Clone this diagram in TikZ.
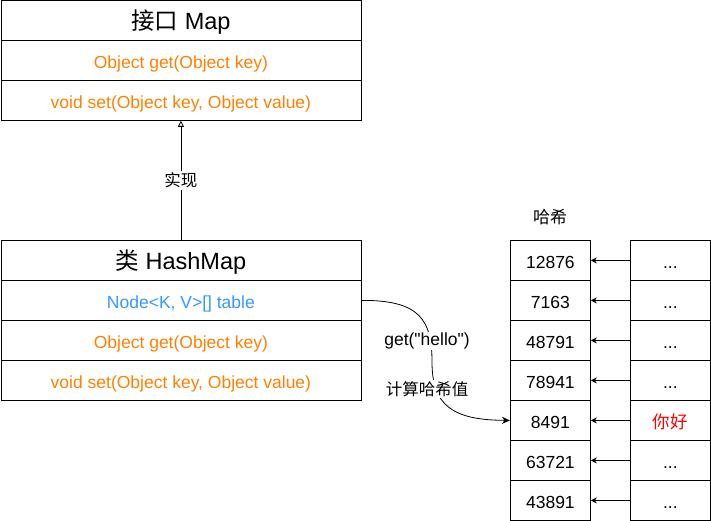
\documentclass[tikz,border=0pt]{standalone}
\usepackage{fontspec}
\setmainfont{Liberation Sans}[Ligatures=TeXOff]
\newfontfamily\cjk{Noto Sans CJK SC}
\usetikzlibrary{arrows.meta}
\definecolor{morange}{HTML}{FF8000}
\definecolor{mblue}{HTML}{3399FF}
\definecolor{mred}{HTML}{FF0000}
\begin{document}
\begin{tikzpicture}[x=1pt,y=-1pt,
  cell/.style={draw=black,line width=0.8pt,minimum width=#1,minimum height=40pt,inner sep=0pt,anchor=north west,text height=16.2pt,text depth=0pt,font=\fontsize{17.5}{20}\selectfont},
  cell/.default=360pt,
  titlecell/.style={cell,text height=18pt,font=\fontsize{23.5}{26}\selectfont},
  lbl/.style={fill=white,inner sep=1pt,font=\fontsize{17.5}{20}\selectfont},
  cjklbl/.style={fill=white,inner sep=1pt,font=\cjk\fontsize{16.5}{19}\selectfont},
  ptr/.style={line width=0.8pt,-{Stealth[length=6pt,width=6pt,inset=2pt]}}
]
\useasboundingbox (0,0) rectangle (711,521);
% Interface Map
\node[titlecell] (m0) at (0.5,0.5) {{\cjk 接口} Map};
\node[cell,text=morange] (m1) at (0.5,40) {Object get(Object key)};
\node[cell,text=morange] (m2) at (0.5,80) {void set(Object key, Object value)};
% HashMap class
\node[titlecell] (h0) at (0.5,240) {{\cjk 类} HashMap};
\node[cell,text=mblue] (h1) at (0.5,280) {Node<K, V>[] table};
\node[cell,text=morange] (h2) at (0.5,320) {Object get(Object key)};
\node[cell,text=morange] (h3) at (0.5,360) {void set(Object key, Object value)};
% implements arrow
\draw[line width=0.8pt,-{Triangle[open,length=6pt,width=6pt]}] (h0.north) -- node[cjklbl,inner sep=2pt] (impl) {实现} (m2.south);
% hash table
\node[font=\cjk\fontsize{17}{19}\selectfont] (hashlbl) at (550,217) {哈希};
\foreach \i/\v/\w in {0/12876/{...},1/7163/{...},2/48791/{...},3/78941/{...},4/8491/{\textcolor{mred}{\cjk 你好}},5/63721/{...},6/43891/{...}}{
  \node[cell=80pt] (k\i) at (510,240+40*\i) {\v};
  \node[cell=80pt] (v\i) at (630,240+40*\i) {\w};
  \draw[ptr] (v\i.west) -- (k\i.east);
}
% hash curve
\coordinate (cmid) at (432,362);
\draw[line width=0.8pt,-{Stealth[length=8pt,width=7pt,inset=2.5pt]}] (h1.east) .. controls (420,300) and (432,320) .. (cmid) .. controls (432,405) and (452,420) .. (k4.west);
\node[lbl] (getlbl) at (427,341) {get("hello")};
\node[cjklbl] (calclbl) at (427,389) {计算哈希值};
\end{tikzpicture}
\end{document}
